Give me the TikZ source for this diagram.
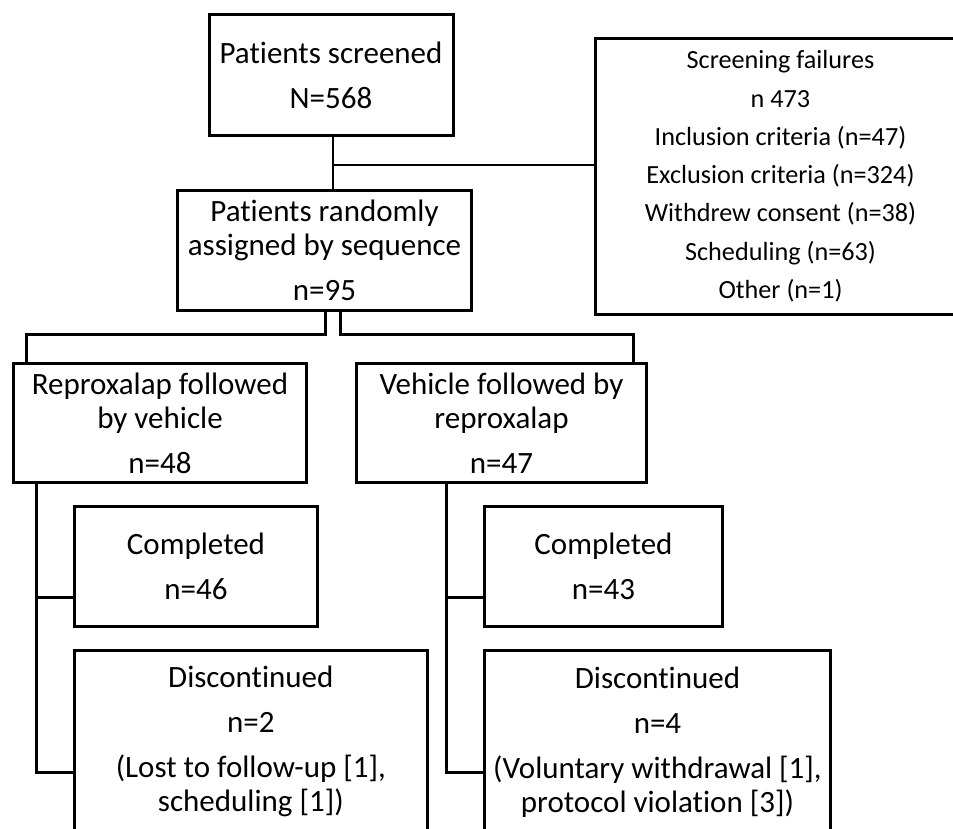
\documentclass[tikz,border=0pt]{standalone}
\usepackage{fontspec}
\setmainfont{Carlito}[Ligatures=NoCommon]
\begin{document}
\begin{tikzpicture}[x=1pt,y=-1pt,
  box/.style={draw, line width=3pt, inner sep=0pt, align=center, anchor=center},
  big/.style={font=\fontsize{31}{34}\selectfont},
  bigwide/.style={font=\fontsize{31}{45}\selectfont},
  small/.style={font=\fontsize{26.2}{38.3}\selectfont},
  thickline/.style={line width=3pt},
  thinline/.style={line width=1.6pt}]
\useasboundingbox (0,0) rectangle (953,829);

\node[box, bigwide, minimum width=244pt, minimum height=120.7pt] (A) at (331,75.3) {Patients screened\\N=568};
\node[box, small, minimum width=369.4pt, minimum height=276.3pt] (F) at (780.5,176.35)
  {Screening failures\\n 473\\Inclusion criteria (n=47)\\Exclusion criteria (n=324)\\Withdrew consent (n=38)\\Scheduling (n=63)\\Other (n=1)};
\node[box, big, minimum width=294.6pt, minimum height=120.3pt] (B) at (324.5,250.65) {Patients randomly\\assigned by sequence\\[11pt]n=95};
\node[box, big, minimum width=293.6pt, minimum height=119.6pt] (C) at (160,423) {Reproxalap followed\\by vehicle\\[11pt]n=48};
\node[box, big, minimum width=289.4pt, minimum height=119.6pt] (D) at (501.5,423) {Vehicle followed by\\reproxalap\\[11pt]n=47};
\node[box, bigwide, minimum width=243.6pt, minimum height=119.7pt] (CL) at (196,566.35) {Completed\\n=46};
\node[box, bigwide, minimum width=238.6pt, minimum height=119.7pt] (CR) at (603.5,566.35) {Completed\\n=43};
\node[box, big, minimum width=353.3pt, minimum height=182pt] (DL) at (250.85,741.8) {Discontinued\\[11pt]n=2\\[11pt](Lost to follow-up [1],\\scheduling [1])};
\node[box, big, minimum width=346.6pt, minimum height=182pt] (DR) at (657.5,741.8) {Discontinued\\[11pt]n=4\\[11pt](Voluntary withdrawal [1],\\protocol violation [3])};

% screened -> randomized, with branch to failures
\coordinate (a0) at ([xshift=1.7pt]A.south);
\coordinate (j1) at ([yshift=-27.6pt]a0);
\draw[thinline] (a0) -- (a0 |- B.north);
\draw[thinline] (j1) -- (j1 -| F.west);

% randomized -> two sequences
\coordinate (b1) at ([xshift=1.2pt]B.south);
\coordinate (b2) at ([xshift=15.8pt]B.south);
\coordinate (c0) at ([xshift=-133.3pt]C.north);
\coordinate (d0) at ([xshift=131.8pt]D.north);
\draw[thickline] (b1) |- ([yshift=27.5pt]c0) -- (c0);
\draw[thickline] (b2) |- ([yshift=27.5pt]d0) -- (d0);

% left sequence -> outcomes
\coordinate (cl0) at ([xshift=-123.7pt]C.south);
\coordinate (cl1) at (cl0 |- 0,597.3);
\coordinate (cl2) at (cl0 |- 0,772.3);
\draw[thickline] (cl0) -- (cl2) -- (cl2 -| DL.west);
\draw[thickline] (cl1) -- (cl1 -| CL.west);

% right sequence -> outcomes
\coordinate (dr0) at ([xshift=-54.8pt]D.south);
\coordinate (dr1) at (dr0 |- 0,597.3);
\coordinate (dr2) at (dr0 |- 0,772.3);
\draw[thickline] (dr0) -- (dr2) -- (dr2 -| DR.west);
\draw[thickline] (dr1) -- (dr1 -| CR.west);
\end{tikzpicture}
\end{document}
